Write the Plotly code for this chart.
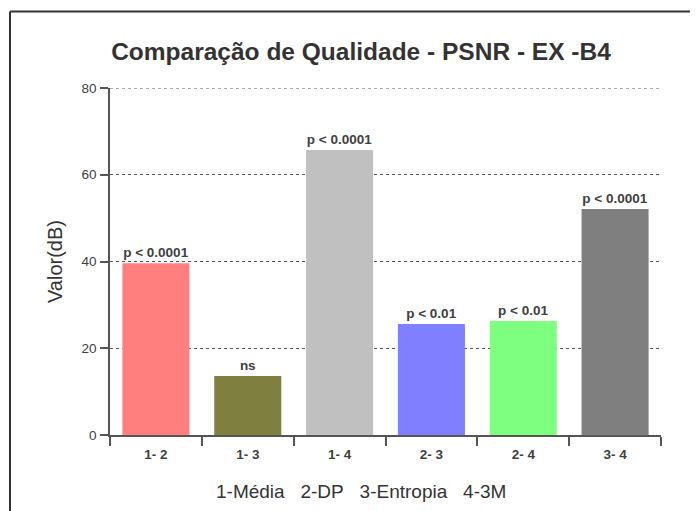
import plotly.graph_objects as go

categories = ["1- 2", "1- 3", "1- 4", "2- 3", "2- 4", "3- 4"]
values = [39.6, 13.6, 65.7, 25.6, 26.3, 52.1]
labels = ["p < 0.0001", "ns", "p < 0.0001", "p < 0.01", "p < 0.01", "p < 0.0001"]
colors = ["#FF7F7F", "#7F7F3F", "#C0C0C0", "#7F7FFF", "#7FFF7F", "#7F7F7F"]
y_ticks = [0, 20, 40, 60, 80]
x_title = "1-Média&nbsp;&nbsp;&nbsp;2-DP&nbsp;&nbsp;&nbsp;3-Entropia&nbsp;&nbsp;&nbsp;4-3M"

OFF = 8  # page body margin
W, H = 698 - OFF, 511 - OFF
L, R, T, B = 110 - OFF, 698 - 661, 88 - OFF, 511 - 435
pw, ph = W - L - R, H - T - B

def px(x):
    return (x - OFF - L) / pw

def py(y):
    return (H - B - (y - OFF)) / ph

fig = go.Figure()
fig.add_trace(go.Bar(
    x=categories, y=values,
    marker=dict(color=colors, line=dict(width=0)),
    text=["<b>%s</b>" % t for t in labels], textposition="outside", cliponaxis=False,
    textfont=dict(family="Liberation Sans", size=13.5, color="#404040"),
    hoverinfo="skip",
))

fig.update_layout(
    width=W, height=H,
    margin=dict(l=L, r=R, t=T, b=B, autoexpand=False),
    paper_bgcolor="white", plot_bgcolor="white",
    bargap=0.27,
    showlegend=False,
    title=dict(text="<b>Comparação de Qualidade - PSNR - EX -B4</b>",
               font=dict(family="Liberation Sans", size=24.5, color="#333333"),
               x=(361 - OFF) / W, xanchor="center", y=1 - (51 - OFF) / H, yanchor="middle"),
    xaxis=dict(
        type="category",
        showline=True, linecolor="#555555", linewidth=1.5,
        ticks="outside", tickson="boundaries", ticklen=9, tickcolor="#555555", tickwidth=1.5,
        tickfont=dict(family="Liberation Sans", size=13.5, color="#404040"),
        tickprefix="<b>", ticksuffix="</b>", ticklabelstandoff=6,
        showgrid=False,
    ),
    yaxis=dict(
        range=[0, 80], tickvals=y_ticks,
        showline=True, linecolor="#555555", linewidth=1.5,
        ticks="outside", ticklen=8, tickcolor="#555555", tickwidth=1.5,
        tickfont=dict(family="Liberation Sans", size=13.5, color="#404040"),
        tickprefix="<b>", ticksuffix="</b>", ticklabelstandoff=1,
        showgrid=True, gridcolor="#555555", gridwidth=1, griddash="3px,3px",
        zeroline=False,
        title=dict(text="Valor(dB)",
                   font=dict(family="Liberation Sans", size=20, color="#333333"), standoff=14),
    ),
    annotations=[
        dict(text=x_title, xref="paper", yref="paper", x=px(361), y=py(491),
             xanchor="center", yanchor="middle", showarrow=False,
             font=dict(family="Liberation Sans", size=19, color="#333333")),
    ],
    shapes=[
        dict(type="line", xref="paper", yref="y", x0=0, x1=1, y0=y_ticks[-1], y1=y_ticks[-1],
             line=dict(color="#555555", width=1, dash="3px,3px"), layer="below"),
        dict(type="line", xref="paper", yref="paper", x0=px(10), x1=px(10), y0=py(11.5), y1=py(530),
             line=dict(color="#333333", width=2)),
        dict(type="line", xref="paper", yref="paper", x0=px(10), x1=px(720), y0=py(11.5), y1=py(11.5),
             line=dict(color="#333333", width=2)),
    ],
)

fig.write_html("out.html")
